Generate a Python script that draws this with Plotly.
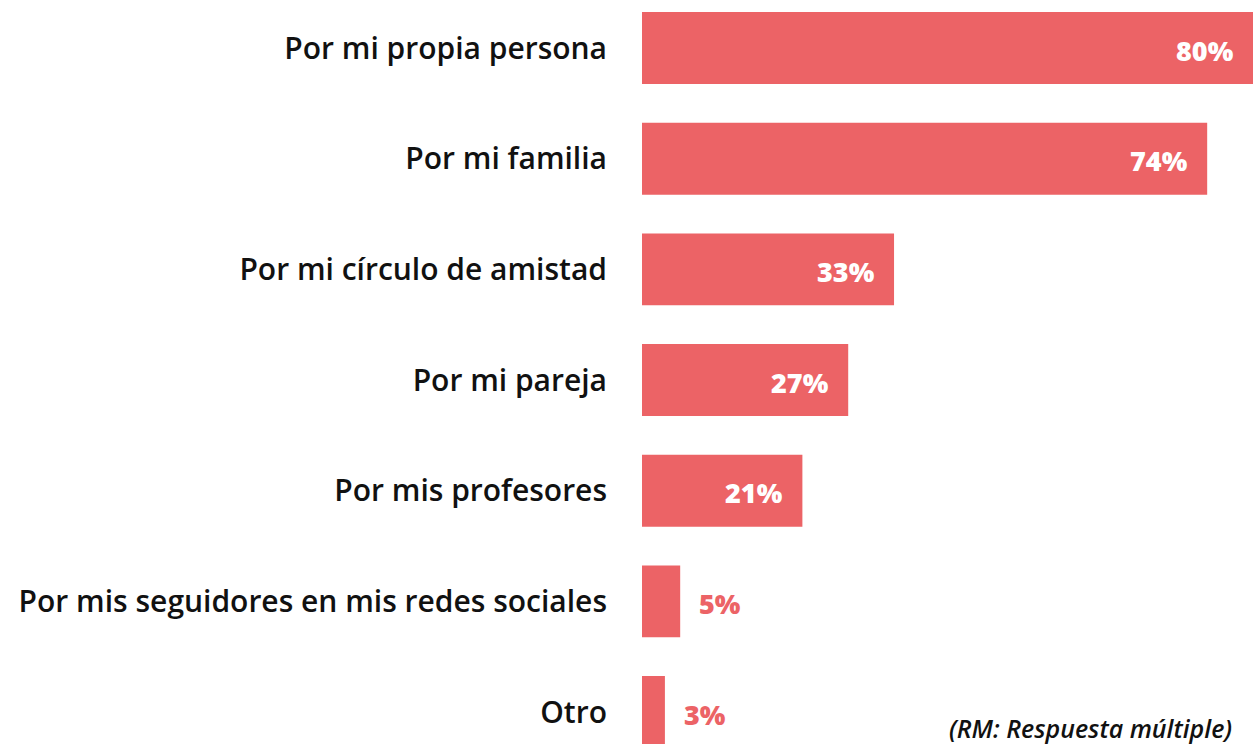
import plotly.graph_objects as go

categorias = ['Por mi propia persona', 'Por mi familia', 'Por mi círculo de amistad',
              'Por mi pareja', 'Por mis profesores',
              'Por mis seguidores en mis redes sociales', 'Otro']
valores = [80, 74, 33, 27, 21, 5, 3]
etiquetas = ['80%', '74%', '33%', '27%', '21%', '5%', '3%']

rojo = '#EC6366'

fig = go.Figure(go.Bar(
    x=valores,
    y=categorias,
    orientation='h',
    marker=dict(color=rojo, line=dict(width=0)),
    width=0.65,
    hoverinfo='skip'
))

# etiquetas de valor: blancas dentro, rojas fuera para barras cortas
for cat, val, txt in zip(categorias, valores, etiquetas):
    dentro = val > 10
    fig.add_annotation(
        x=val, y=cat, text=txt, showarrow=False,
        xanchor='right' if dentro else 'left',
        xshift=-17 if dentro else 17,
        yshift=-2,
        font=dict(family='Open Sans', size=27, weight=800,
                  color='white' if dentro else rojo)
    )

fig.add_annotation(
    x=1, y=0, xref='paper', yref='paper', xanchor='right', yanchor='bottom',
    xshift=-19, yshift=-3, showarrow=False,
    text='<i>(RM: Respuesta múltiple)</i>',
    font=dict(family='Open Sans', size=25, weight=600, color='#111111')
)

fig.update_xaxes(range=[0, 80], visible=False, fixedrange=True, automargin=False)
fig.update_yaxes(
    categoryorder='array', categoryarray=categorias,
    range=[6.289, -0.434], automargin=False, fixedrange=True,
    showgrid=False, zeroline=False, showline=False, ticks='',
    ticklabelstandoff=34,
    tickfont=dict(family='Open Sans', size=30, weight=600, color='#111111')
)

fig.update_layout(
    width=1253, height=744,
    margin=dict(l=642, r=0, t=0, b=0),
    plot_bgcolor='white', paper_bgcolor='white',
    showlegend=False
)

# quitar el margen por defecto del body para que la figura ocupe toda la ventana
fig.write_html("out.html", config={'displayModeBar': False},
               post_script="document.body.style.margin='0';")
